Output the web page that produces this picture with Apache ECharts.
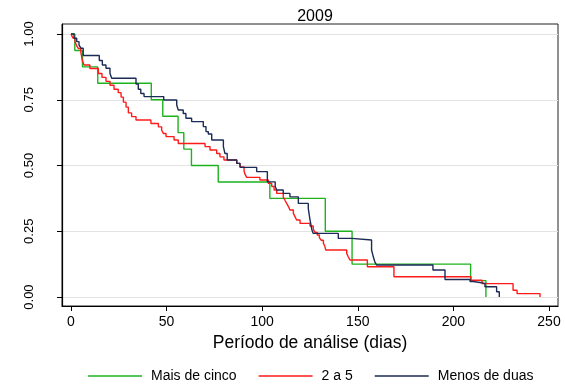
<!DOCTYPE html>
<html>
<head>
<meta charset="utf-8">
<script src="https://cdn.jsdelivr.net/npm/echarts@6/dist/echarts.min.js"></script>
<style>
  html, body { margin: 0; padding: 0; background: #ffffff; }
  #chart { width: 565px; height: 385px; }
</style>
</head>
<body>
<div id="chart"></div>
<script>
// Kaplan-Meier survival estimates, 2009 cohort, by group
const chartTitle = '2009';
const xAxisTitle = 'Período de análise (dias)';
const xTicks = [0, 50, 100, 150, 200, 250];
const yTicks = [0, 0.25, 0.5, 0.75, 1];
const yTickLabels = ['0.00', '0.25', '0.50', '0.75', '1.00'];
const groupNames = ['Mais de cinco', '2 a 5', 'Menos de duas'];

// "Mais de cinco": event times (days) and survival after each event
const maisTimes = [0, 2, 6, 14, 42, 48, 56, 59, 63, 77, 104, 133, 147, 209, 217];
const maisSurv  = [1, 0.9375, 0.875, 0.8125, 0.75, 0.6875, 0.625, 0.5625, 0.5, 0.4375, 0.375, 0.25, 0.125, 0.0625, 0];

// "2 a 5"
const doisTimes = [0, 1.0, 2.1, 3.0, 3.8, 5.1, 5.9, 6.8, 9.9, 14.3, 16.2, 18.3, 20.4, 22.5, 24.7, 26.2, 27.4, 28.8, 30.0, 31.7, 34.0,
  41.8, 45.7, 47.4, 48.3, 49.7, 53.9, 56.1, 70.1, 72.7, 76.2, 77.9, 80.0, 86.7, 88.4, 90.5, 91.0, 91.9, 98.8,
  103.2, 105.0, 106.2, 107.6, 111.0, 111.9, 112.8, 113.8, 114.5, 116.3, 117.2, 118.0, 119.8, 125.0, 126.7, 127.6,
  128.8, 129.9, 130.8, 132.0, 132.8, 133.2, 144.2, 145.0, 145.9, 155.0, 168.9, 209.2, 215.0, 231.2, 233.3, 245.3];
const doisSurv = [1, 0.985, 0.97, 0.955, 0.945, 0.933, 0.90, 0.882, 0.869, 0.85, 0.835, 0.82, 0.805, 0.79, 0.777, 0.76, 0.741, 0.722, 0.70, 0.686, 0.673,
  0.66, 0.647, 0.635, 0.622, 0.61, 0.597, 0.584, 0.572, 0.559, 0.546, 0.533, 0.521, 0.508, 0.495, 0.48, 0.467, 0.455, 0.445,
  0.432, 0.42, 0.407, 0.394, 0.381, 0.368, 0.356, 0.343, 0.331, 0.318, 0.305, 0.293, 0.28, 0.27, 0.258, 0.246,
  0.236, 0.226, 0.216, 0.205, 0.192, 0.179, 0.166, 0.153, 0.141, 0.115, 0.077, 0.064, 0.051, 0.026, 0.013, 0];

// "Menos de duas"
const menosTimes = [0, 1.6, 3.0, 4.2, 5.2, 6.4, 14.8, 16.4, 18.3, 20.4, 21.3, 34.0, 35.2, 36.5, 38.2, 48.5, 55.3, 56.1, 58.7, 60.1, 63.1,
  69.2, 70.6, 71.8, 73.6, 79.7, 80.5, 81.7, 86.7, 88.4, 97.1, 102.7, 106.8, 107.6, 111.0, 114.5, 118.9, 124.1, 125.0, 126.0, 126.7,
  139.8, 146.8, 157.2, 158.1, 158.9, 159.8, 189.3, 195.6, 208.7, 210.4, 216.5, 222.6, 224.0];
const menosSurv = [1, 0.984, 0.971, 0.958, 0.946, 0.918, 0.899, 0.882, 0.87, 0.85, 0.832, 0.81, 0.79, 0.774, 0.762, 0.749, 0.73, 0.711, 0.698, 0.68, 0.667,
  0.648, 0.629, 0.62, 0.597, 0.572, 0.546, 0.521, 0.508, 0.493, 0.477, 0.438, 0.42, 0.407, 0.394, 0.381, 0.356, 0.337, 0.293, 0.255, 0.242,
  0.223, 0.217, 0.179, 0.153, 0.134, 0.122, 0.103, 0.067, 0.059, 0.052, 0.039, 0.02, 0];

const colors = ['#1db31d', '#ff1a1a', '#1c2b55'];

function pairs(t, s) { return t.map((v, i) => [v, s[i]]); }

const chart = echarts.init(document.getElementById('chart'), null, { renderer: 'canvas' });

const makeSeries = (name, t, s, color) => ({
  name: name,
  type: 'line',
  step: 'end',
  data: pairs(t, s),
  showSymbol: false,
  symbol: 'none',
  lineStyle: { color: color, width: 1.4 },
  itemStyle: { color: color },
  emphasis: { disabled: true },
  animation: false
});

chart.setOption({
  animation: false,
  backgroundColor: '#ffffff',
  textStyle: { fontFamily: 'Liberation Sans, Arial, sans-serif' },
  title: {
    text: chartTitle,
    left: 310,
    top: 4,
    textAlign: 'center',
    textStyle: { fontSize: 16, fontWeight: 'normal', color: '#000' }
  },
  grid: {
    left: 62, right: 7, top: 24, bottom: 79,
    show: true,
    borderColor: '#222',
    borderWidth: 1,
    backgroundColor: '#ffffff'
  },
  legend: {
    top: 364,
    left: 83,
    icon: 'rect',
    itemWidth: 54,
    itemHeight: 1.5,
    itemGap: 22,
    textStyle: { fontSize: 14, color: '#000', padding: [0, 0, 0, 4] },
    data: groupNames.map((n, i) => ({ name: n, itemStyle: { color: colors[i] } }))
  },
  xAxis: {
    type: 'value',
    min: -4.7,
    max: 254.7,
    name: xAxisTitle,
    nameLocation: 'middle',
    nameGap: 26,
    nameTextStyle: { fontSize: 17.5, color: '#000' },
    axisLine: { show: true, onZero: false, lineStyle: { color: '#000', width: 1.2 } },
    axisTick: { show: true, length: 5, inside: false, lineStyle: { color: '#000' }, customValues: xTicks },
    axisLabel: { fontSize: 14, color: '#000', margin: 9, customValues: xTicks },
    splitLine: { show: false }
  },
  yAxis: {
    type: 'value',
    min: -0.034,
    max: 1.038,
    axisLine: { show: true, onZero: false, lineStyle: { color: '#000', width: 1.2 } },
    axisTick: { show: true, length: 5, inside: false, lineStyle: { color: '#000' }, customValues: yTicks },
    axisLabel: {
      fontSize: 13, color: '#000', rotate: 90, margin: 26, customValues: yTicks,
      formatter: v => yTickLabels[yTicks.indexOf(v)]
    },
    splitLine: { show: true, lineStyle: { color: '#e3e3e3', width: 1 } }
  },
  series: [
    makeSeries(groupNames[0], maisTimes, maisSurv, colors[0]),
    makeSeries(groupNames[1], doisTimes, doisSurv, colors[1]),
    makeSeries(groupNames[2], menosTimes, menosSurv, colors[2])
  ]
});
</script>
</body>
</html>
